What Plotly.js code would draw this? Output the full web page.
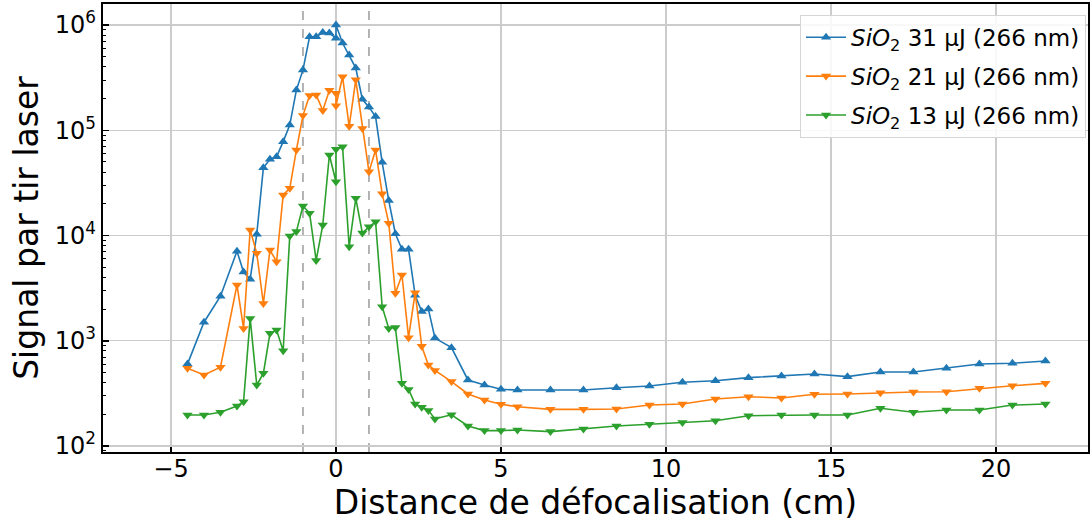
<!DOCTYPE html>
<html>
<head>
<meta charset="utf-8">
<script src="https://cdn.plot.ly/plotly-3.0.1.min.js"></script>
<style>
  html, body { margin: 0; padding: 0; background: #ffffff; }
  #chart { width: 1090px; height: 523px; }
</style>
</head>
<body>
<div id="chart"></div>
<script>
// Defocus distance (cm)
const distance = [
  -4.5, -4, -3.5, -3, -2.8, -2.6, -2.4, -2.2, -2.0, -1.8, -1.6, -1.4, -1.2, -1.0,
  -0.8, -0.6, -0.4, -0.2, 0, 0, 0.2, 0.4, 0.6, 0.8, 1.0, 1.2, 1.4, 1.6, 1.8, 2.0,
  2.2, 2.4, 2.6, 2.8, 3.0, 3.5, 4.0, 4.5, 5.0, 5.5, 6.5, 7.5, 8.5, 9.5, 10.5, 11.5,
  12.5, 13.5, 14.5, 15.5, 16.5, 17.5, 18.5, 19.5, 20.5, 21.5
];

// Signal per laser shot, SiO2 31 µJ
const signal31 = [
  600, 1500, 2650, 7100, 4500, 3850, 10300, 44000, 53000, 56000, 78000, 112000, 241000, 375000,
  774000, 774000, 850000, 840000, 750000, 1000000, 675000, 519000, 390000, 197000, 166000, 135000, 49600, 21500, 10400, 7400,
  7400, 2700, 1900, 2000, 1060, 860, 424, 380, 346, 340, 340, 340, 358, 372, 403, 417,
  446, 462, 483, 456, 505, 505, 547, 601, 611, 643
];

// Signal per laser shot, SiO2 21 µJ
const signal21 = [
  547, 473, 560, 3390, 1310, 11300, 6780, 2260, 7280, 5640, 24300, 28100, 64900, 138000,
  214000, 217000, 154000, 240000, 225000, 171000, 323000, 109000, 302000, 104000, 40300, 64900, 25000, 13100, 2830, 4220,
  1070, 2860, 885, 589, 522, 409, 312, 273, 249, 236, 223, 223, 225, 245, 251, 280,
  294, 286, 310, 312, 321, 326, 328, 353, 374, 394
];

// Signal per laser shot, SiO2 13 µJ
const signal13 = [
  197, 197, 209, 240, 264, 1630, 380, 490, 1180, 1265, 804, 9890, 10900, 19100,
  16300, 5800, 12600, 58200, 32400, 66000, 69800, 7830, 22600, 10550, 12100, 13500, 2110, 1310, 1340, 394,
  345, 250, 234, 218, 181, 198, 155, 140, 140, 142, 137, 145, 155, 161, 167, 174,
  194, 197, 197, 197, 228, 209, 220, 220, 245, 251
];

const seriesNames = [
  "<i>SiO</i><sub>2</sub> 31 µJ (266 nm)",
  "<i>SiO</i><sub>2</sub> 21 µJ (266 nm)",
  "<i>SiO</i><sub>2</sub> 13 µJ (266 nm)"
];

// Focal zone boundaries (dashed reference lines)
const focusBounds = [-1, 1];

const xTickVals = [-5, 0, 5, 10, 15, 20];
const xTickText = ["\u22125", "0", "5", "10", "15", "20"];
const yTickVals = [1e2, 1e3, 1e4, 1e5, 1e6];
const yTickText = ["10<sup>2</sup>", "10<sup>3</sup>", "10<sup>4</sup>", "10<sup>5</sup>", "10<sup>6</sup>"];

const yMinorVals = [];
for (let e = 1; e <= 6; e++) {
  for (let m = 2; m <= 9; m++) yMinorVals.push(m * Math.pow(10, e));
}

const colors = ["#1f77b4", "#ff7f0e", "#2ca02c"];
const symbols = ["triangle-up", "triangle-down", "triangle-down"];
const series = [signal31, signal21, signal13];

const traces = series.map((ys, i) => ({
  x: distance,
  y: ys,
  type: "scatter",
  mode: "lines+markers",
  name: seriesNames[i],
  legendgroup: "g" + i,
  line: { color: colors[i], width: 1.6 },
  marker: { color: colors[i], symbol: symbols[i], size: 9 }
}));

const shapes = focusBounds.map(v => ({
  type: "line",
  xref: "x", yref: "paper",
  x0: v, x1: v, y0: 0, y1: 1,
  line: { color: "#8c8c8c", width: 1.3, dash: "dash" },
  layer: "below"
}));

const font = "DejaVu Sans, sans-serif";

const layout = {
  width: 1090,
  height: 523,
  margin: { l: 103, r: 2, t: 4, b: 71 },
  paper_bgcolor: "#ffffff",
  plot_bgcolor: "#ffffff",
  font: { family: font, color: "#000000", size: 24 },
  showlegend: true,
  legend: {
    x: 0.998, y: 0.976, xanchor: "right", yanchor: "top",
    bgcolor: "rgba(255,255,255,0.85)",
    bordercolor: "#d5d5d5", borderwidth: 1,
    font: { family: font, size: 23, color: "#000000" },
    itemwidth: 40,
    traceorder: "grouped",
    tracegroupgap: 6
  },
  xaxis: {
    range: [-7.06, 22.79],
    tickmode: "array",
    tickvals: xTickVals,
    ticktext: xTickText,
    ticks: "inside",
    ticklen: 5,
    tickwidth: 1.5,
    tickcolor: "#000000",
    tickfont: { family: font, size: 24 },
    ticklabelstandoff: -6,
    showgrid: true,
    gridcolor: "#cccccc",
    gridwidth: 1.3,
    zeroline: false,
    showline: true,
    linecolor: "#000000",
    linewidth: 2.2,
    mirror: true,
    automargin: false,
    title: { text: "Distance de défocalisation (cm)", font: { family: font, size: 33 }, standoff: 4 }
  },
  yaxis: {
    type: "log",
    range: [1.943, 6.2],
    tickmode: "array",
    tickvals: yTickVals,
    ticktext: yTickText,
    ticks: "inside",
    ticklen: 6,
    tickwidth: 1.5,
    tickcolor: "#000000",
    tickfont: { family: font, size: 24 },
    showgrid: true,
    gridcolor: "#cccccc",
    gridwidth: 1.3,
    zeroline: false,
    showline: true,
    linecolor: "#000000",
    linewidth: 2.2,
    mirror: true,
    automargin: false,
    minor: {
      tickmode: "array",
      tickvals: yMinorVals,
      ticks: "inside",
      ticklen: 3,
      tickwidth: 1,
      tickcolor: "#000000",
      showgrid: false
    },
    title: { text: "Signal par tir laser", font: { family: font, size: 33 }, standoff: 6 }
  },
  shapes: shapes
};

Plotly.newPlot("chart", traces, layout, { displayModeBar: false, staticPlot: true });
</script>
</body>
</html>
